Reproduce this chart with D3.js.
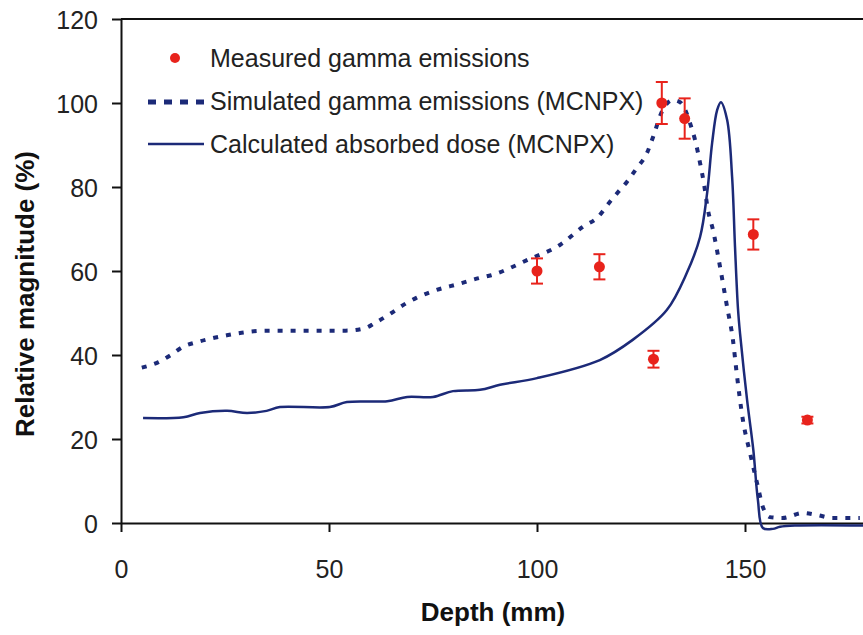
<!DOCTYPE html>
<html>
<head>
<meta charset="utf-8">
<script src="https://cdn.jsdelivr.net/npm/d3@7"></script>
<style>
  body { margin: 0; background: #fff; }
  text { font-family: "Liberation Sans", Arial, sans-serif; }
</style>
</head>
<body>
<div id="myPlot"></div>
<script>
// chart size
var svgWidth = 863;
var svgHeight = 635;

// measured gamma emissions (depth mm, %, error)
var measDepth = [100, 115, 128, 130, 135.5, 152, 165];
var measValue = [60, 61, 39, 100, 96.3, 68.7, 24.5];
var measErr = [3, 3, 2, 5, 4.8, 3.6, 0.8];

// simulated gamma emissions (MCNPX)
var simDepth = [5, 9, 12, 15, 18, 22, 25, 29, 35, 43, 54, 58.7, 61, 65, 68, 71, 75, 81.5, 86, 89, 98.3, 105.5, 111, 114.7, 117.3, 119.5, 121.6, 124, 126.4, 127.9, 130, 132.7, 134.4, 137.3, 138, 139.2, 140.1, 141.1, 142.3, 144, 145.7, 147.1, 148, 149.5, 151.2, 152.9, 154.3, 156, 159, 164, 167.3, 171, 177.6];
var simValue = [37, 38.3, 40, 42, 43, 44, 44.6, 45.3, 45.8, 45.8, 45.8, 46.4, 47.6, 50, 52, 53.6, 55.2, 57, 58.3, 59, 62.9, 66.2, 70.5, 72.9, 76.2, 78.8, 81.2, 84.5, 88, 91.9, 97.9, 100.7, 100.2, 93.6, 91.2, 85.7, 81, 74.5, 69.8, 61, 51.4, 43.6, 35.7, 24.5, 16.7, 9.5, 3.8, 1.4, 1.2, 2.4, 1.9, 1.2, 1.2];

// calculated absorbed dose (MCNPX)
var doseDepth = [5.3, 15, 19, 25.5, 30.3, 35, 38.2, 50.2, 54.3, 64, 68.8, 75, 79.8, 86.3, 91.1, 100, 115.1, 123, 131.2, 136, 139.2, 140.9, 142.1, 143.3, 144.2, 145.7, 146.9, 147.6, 148.3, 148.8, 150.5, 152, 153.1, 154.3, 156.7, 158.4, 162, 180];
var doseValue = [25, 25.2, 26.2, 26.7, 26.2, 26.7, 27.6, 27.6, 28.8, 29, 30, 30, 31.4, 31.7, 32.9, 34.5, 38.8, 43.6, 50.7, 59.5, 68.1, 78.6, 90.5, 98.3, 100.2, 96, 82.4, 65.7, 51.2, 45.2, 29.3, 17.4, 5.5, -1.2, -1.4, -0.9, -0.6, -0.6];

// tick labels
var xTicks = [0, 50, 100, 150];
var yTicks = [0, 20, 40, 60, 80, 100, 120];

var lineColor = "#1c2a78";
var redColor = "#e8231c";
var textColor = "#222";

var svg = d3.select("#myPlot")
    .append("svg")
    .attr("width", svgWidth)
    .attr("height", svgHeight);

// scales (plot origin at 121,523)
var xScale = d3.scaleLinear().domain([0, 180]).range([121, 121 + 180 * 4.16]);
var yScale = d3.scaleLinear().domain([0, 120]).range([523, 19]);

// top frame line
svg.append("line")
    .attr("x1", xScale(0)).attr("x2", svgWidth)
    .attr("y1", yScale(120)).attr("y2", yScale(120))
    .attr("stroke", "#111").attr("stroke-width", 2);

// axes
var xAxis = d3.axisBottom(xScale).tickValues(xTicks).tickSize(9).tickPadding(28).tickSizeOuter(0);
var yAxis = d3.axisLeft(yScale).tickValues(yTicks).tickSize(9).tickPadding(14).tickSizeOuter(0);

var gx = svg.append("g").attr("transform", `translate(0, ${yScale(0)})`).call(xAxis);
var gy = svg.append("g").attr("transform", `translate(${xScale(0)}, 0)`).call(yAxis);

[gx, gy].forEach(function (g) {
    g.select(".domain").attr("stroke", "#111").attr("stroke-width", 2);
    g.selectAll(".tick line").attr("stroke", "#111").attr("stroke-width", 2);
    g.selectAll(".tick text")
        .attr("fill", textColor)
        .style("font-size", "25px")
        .style("font-family", "Liberation Sans, Arial, sans-serif");
});
gy.selectAll(".tick text").attr("dy", "0.36em");

// axis titles
svg.append("text")
    .attr("x", 493).attr("y", 621)
    .attr("text-anchor", "middle")
    .attr("fill", "#111")
    .style("font-size", "26px").style("font-weight", "bold")
    .text("Depth (mm)");

svg.append("text")
    .attr("transform", "translate(34, 294) rotate(-90)")
    .attr("text-anchor", "middle")
    .attr("fill", "#111")
    .style("font-size", "26px").style("font-weight", "bold")
    .text("Relative magnitude (%)");

// lines
var simLine = d3.line()
    .x((d, i) => xScale(simDepth[i]))
    .y((d, i) => yScale(simValue[i]))
    .curve(d3.curveMonotoneX);

var doseLine = d3.line()
    .x((d, i) => xScale(doseDepth[i]))
    .y((d, i) => yScale(doseValue[i]))
    .curve(d3.curveCatmullRom.alpha(0.5));

svg.append("path")
    .attr("d", doseLine(doseDepth))
    .attr("fill", "none")
    .attr("stroke", lineColor)
    .attr("stroke-width", 2.5);

svg.append("path")
    .attr("d", simLine(simDepth))
    .attr("fill", "none")
    .attr("stroke", lineColor)
    .attr("stroke-width", 4)
    .attr("stroke-dasharray", "5,8");

// measured points with error bars
var meas = measDepth.map((d, i) => ({ x: d, y: measValue[i], e: measErr[i] }));
var pts = svg.selectAll(".meas").data(meas).enter().append("g").attr("class", "meas");

pts.append("line")
    .attr("x1", d => xScale(d.x)).attr("x2", d => xScale(d.x))
    .attr("y1", d => yScale(d.y - d.e)).attr("y2", d => yScale(d.y + d.e))
    .attr("stroke", redColor).attr("stroke-width", 2);
pts.append("line")
    .attr("x1", d => xScale(d.x) - 6).attr("x2", d => xScale(d.x) + 6)
    .attr("y1", d => yScale(d.y + d.e)).attr("y2", d => yScale(d.y + d.e))
    .attr("stroke", redColor).attr("stroke-width", 2);
pts.append("line")
    .attr("x1", d => xScale(d.x) - 6).attr("x2", d => xScale(d.x) + 6)
    .attr("y1", d => yScale(d.y - d.e)).attr("y2", d => yScale(d.y - d.e))
    .attr("stroke", redColor).attr("stroke-width", 2);
pts.append("circle")
    .attr("cx", d => xScale(d.x)).attr("cy", d => yScale(d.y))
    .attr("r", 5.5)
    .attr("fill", redColor);

// legend
var legend = svg.append("g");
legend.append("circle").attr("cx", 175).attr("cy", 58).attr("r", 5).attr("fill", redColor);
legend.append("line")
    .attr("x1", 148).attr("x2", 204).attr("y1", 102).attr("y2", 102)
    .attr("stroke", lineColor).attr("stroke-width", 5).attr("stroke-dasharray", "8,8");
legend.append("line")
    .attr("x1", 148).attr("x2", 204).attr("y1", 144).attr("y2", 144)
    .attr("stroke", lineColor).attr("stroke-width", 2.5);

var legendLabels = ["Measured gamma emissions", "Simulated gamma emissions (MCNPX)", "Calculated absorbed dose (MCNPX)"];
legend.selectAll(".legtext").data(legendLabels).enter().append("text")
    .attr("class", "legtext")
    .attr("x", 210)
    .attr("y", (d, i) => 67 + i * 43)
    .attr("fill", textColor)
    .style("font-size", "25px")
    .text(d => d);
</script>
</body>
</html>
